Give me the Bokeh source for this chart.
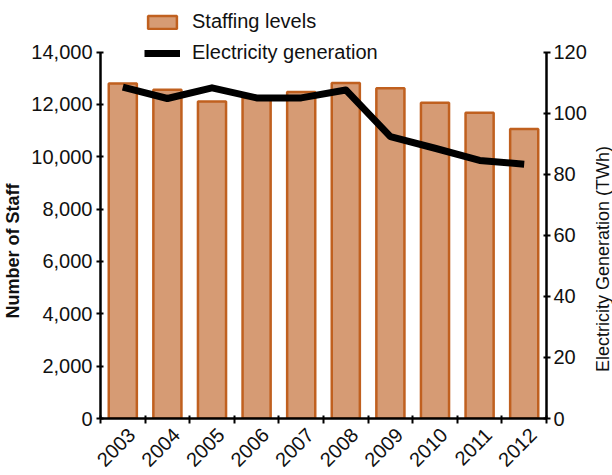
import math
from bokeh.plotting import figure
from bokeh.layouts import row
from bokeh.models import (Range1d, LinearAxis, FixedTicker, Legend, LegendItem,
                          NumeralTickFormatter, Label)
from bokeh.embed import file_html
from bokeh.resources import INLINE

years = ["2003", "2004", "2005", "2006", "2007", "2008", "2009", "2010", "2011", "2012"]
staff = [12800, 12560, 12110, 12250, 12470, 12820, 12620, 12060, 11680, 11060]
generation = [108.5, 104.8, 108.3, 105.0, 105.0, 107.6, 92.3, 88.5, 84.5, 83.3]

FONT = "Liberation Sans"
BAR_FILL = "#D69B74"
BAR_EDGE = "#C0601F"
NB = "\u00a0"

xs = [i + 0.5 for i in range(len(years))]
label_pos = [x + 0.2 for x in xs]

# frame extends above the axes' top so that the legend can sit there
EXT = 414 / 370

p = figure(width=595, height=475, output_backend="svg", toolbar_location=None,
           x_range=Range1d(0, len(years)), y_range=Range1d(0, 14000 * EXT),
           min_border_left=100, min_border_right=49, min_border_top=8,
           min_border_bottom=53, x_axis_type=None, y_axis_type=None)
p.outline_line_color = None
p.xgrid.visible = False
p.ygrid.visible = False
p.background_fill_color = None
p.border_fill_color = "white"

p.extra_y_ranges = {"gen": Range1d(0, 120 * EXT)}

bars = p.vbar(x=xs, top=staff, width=0.63, fill_color=BAR_FILL,
              line_color=BAR_EDGE, line_width=2.5)
line = p.line(x=xs, y=generation, y_range_name="gen", line_color="black",
              line_width=7, line_join="round")


def style(ax):
    ax.axis_line_width = 2.5
    ax.axis_line_color = "black"
    ax.major_tick_line_color = "black"
    ax.major_tick_line_width = 2
    ax.major_tick_in = 3
    ax.major_tick_out = 4
    ax.minor_tick_line_color = None
    ax.major_label_text_font = FONT
    ax.major_label_text_font_size = "20px"
    ax.major_label_text_color = "#111111"
    ax.axis_label_text_font = FONT
    ax.axis_label_text_font_size = "19px"
    ax.axis_label_text_color = "#111111"


xaxis = LinearAxis(ticker=FixedTicker(ticks=label_pos, minor_ticks=list(range(len(years) + 1))),
                   major_label_overrides={x: y for x, y in zip(label_pos, years)})
style(xaxis)
xaxis.major_tick_line_color = None
xaxis.minor_tick_line_color = "black"
xaxis.minor_tick_line_width = 2
xaxis.minor_tick_in = 3
xaxis.minor_tick_out = 5
xaxis.major_label_orientation = 0.785
xaxis.major_label_standoff = 8
p.add_layout(xaxis, "below")

yaxis = LinearAxis(ticker=FixedTicker(ticks=list(range(0, 14001, 2000))),
                   formatter=NumeralTickFormatter(format="0,0"),
                   axis_label="Number of Staff" + NB * 15, bounds=(0, 14000))
style(yaxis)
yaxis.axis_label_text_font_style = "bold"
yaxis.axis_label_text_font_size = "18px"
yaxis.major_label_standoff = 4
p.add_layout(yaxis, "left")

raxis = LinearAxis(y_range_name="gen", ticker=FixedTicker(ticks=list(range(0, 121, 20))),
                   bounds=(0, 120))
style(raxis)
raxis.major_label_standoff = 3
p.add_layout(raxis, "right")

legend = Legend(items=[LegendItem(label="Staffing levels", renderers=[bars]),
                       LegendItem(label="Electricity generation", renderers=[line])],
                location=(44, 354), orientation="vertical")
legend.border_line_color = None
legend.background_fill_alpha = 0
legend.padding = 2
legend.margin = 0
legend.spacing = 8
legend.glyph_width = 36
legend.glyph_height = 16
legend.label_standoff = 12
legend.label_text_font = FONT
legend.label_text_font_size = "20px"
legend.label_text_color = "#111111"
legend.label_height = 22
p.add_layout(legend, "center")

# strip holding the right-hand axis title, reading bottom to top
t = figure(width=17, height=475, output_backend="svg", toolbar_location=None,
           x_range=Range1d(0, 1), y_range=Range1d(0, 414),
           min_border_left=0, min_border_right=0, min_border_top=8,
           min_border_bottom=53, x_axis_type=None, y_axis_type=None)
t.outline_line_color = None
t.xgrid.visible = False
t.ygrid.visible = False
t.background_fill_color = "white"
t.border_fill_color = "white"
t.add_layout(Label(x=0.47, y=414 - 253, text="Electricity Generation (TWh)",
                   angle=math.pi / 2, text_align="center", text_baseline="middle",
                   text_font=FONT, text_font_size="18px", text_color="#111111"))

layout = row(p, t, spacing=0)
open("out.html", "w").write(file_html(layout, INLINE))
